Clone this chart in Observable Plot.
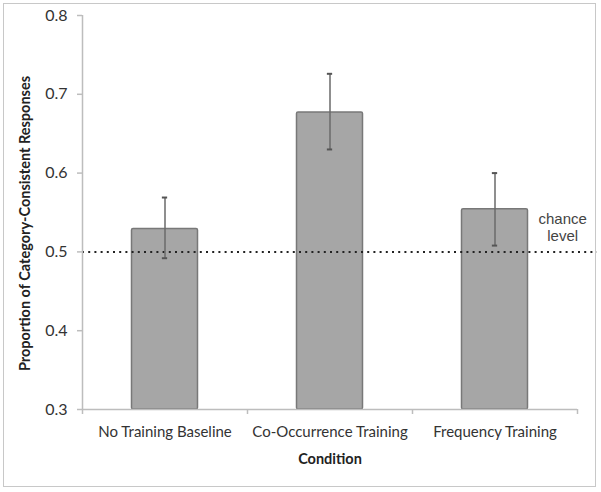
<!DOCTYPE html>
<html>
<head>
<meta charset="utf-8">
<script src="https://cdn.jsdelivr.net/npm/d3@7"></script>
<script src="https://cdn.jsdelivr.net/npm/@observablehq/plot@0.6"></script>
<style>
  html, body { margin: 0; padding: 0; background: #fff; }
  #wrap { position: relative; width: 601px; height: 492px; }
  #border { position: absolute; left: 3px; top: 3px; width: 591px; height: 482px; border: 1.5px solid #c8c8c8; pointer-events: none; }
  svg { display: block; }
</style>
</head>
<body>
<div id="wrap"><div id="border"></div></div>
<script>
const categories = ["No Training Baseline", "Co-Occurrence Training", "Frequency Training"];
const means = [0.529, 0.677, 0.554];
const lower = [0.492, 0.630, 0.508];
const upper = [0.569, 0.726, 0.600];
const yTicks = [0.3, 0.4, 0.5, 0.6, 0.7, 0.8];
const chanceLevel = 0.5;
const yTitle = "Proportion of Category-Consistent Responses";
const xTitle = "Condition";
const chanceLabel = "chance\nlevel";

const rows = categories.map((c, i) => ({i, c, mean: means[i], lo: lower[i], hi: upper[i]}));
const font = "Lato, 'Open Sans', sans-serif";
const axisColor = "#bdbdbd";

const chart = Plot.plot({
  width: 601,
  height: 492,
  marginLeft: 82,
  marginRight: 24,
  marginTop: 15,
  marginBottom: 83,
  style: {fontFamily: font, background: "transparent"},
  x: {domain: [-0.5, 2.5], axis: null},
  y: {domain: [0.3, 0.8], axis: null},
  marks: [
    Plot.rectY(rows, {x1: d => d.i - 0.2, x2: d => d.i + 0.2, y1: 0.3, y2: "mean", fill: "#a6a6a6", stroke: "#787878", strokeWidth: 1.5, rx: 1.5}),
    Plot.ruleY([chanceLevel], {x1: -0.5, x2: 2.62, stroke: "#222", strokeWidth: 2, strokeDasharray: "2 4.2"}),
    Plot.ruleX(rows, {x: "i", y1: "lo", y2: "hi", stroke: "#6a6a6a", strokeWidth: 1.5}),
    Plot.ruleY(rows, {y: "lo", x1: d => d.i - 0.016, x2: d => d.i + 0.016, stroke: "#555", strokeWidth: 2}),
    Plot.ruleY(rows, {y: "hi", x1: d => d.i - 0.016, x2: d => d.i + 0.016, stroke: "#555", strokeWidth: 2}),
    // axis lines and ticks
    Plot.ruleX([-0.5], {y1: 0.3, y2: 0.8, stroke: axisColor, strokeWidth: 1.5}),
    Plot.ruleY([0.3], {x1: -0.5, x2: 2.5, stroke: axisColor, strokeWidth: 1.5}),
    Plot.ruleY(yTicks, {y: d => d, x1: -0.5 - 5 / 165, x2: -0.5, stroke: axisColor, strokeWidth: 1.5}),
    Plot.ruleX([-0.5, 0.5, 1.5, 2.5], {x: d => d, y1: 0.3, y2: 0.3 - 5 / 788, stroke: axisColor, strokeWidth: 1.5}),
    Plot.axisY({ticks: yTicks, tickSize: 0, tickPadding: 15, tickFormat: d3.format(".1f"), fontSize: 16, fill: "#333", label: null}),
    Plot.text(rows, {x: "i", y: 0.3, text: "c", dy: 23, fontSize: 15, fill: "#333"}),
    Plot.text([xTitle], {frameAnchor: "bottom", dy: 54, fontSize: 14.5, fontWeight: "bold", fill: "#222"}),
    Plot.text([yTitle], {frameAnchor: "left", textAnchor: "middle", rotate: -90, dx: -57, dy: 11, fontSize: 14.5, fontWeight: "bold", fill: "#222"}),
    Plot.text([chanceLabel], {x: 2.41, y: 0.532, text: d => d, fontSize: 15, fill: "#444", fontFamily: "'Liberation Sans', Arial, sans-serif", lineHeight: 1.15})
  ]
});
document.getElementById("wrap").prepend(chart);
</script>
</body>
</html>
